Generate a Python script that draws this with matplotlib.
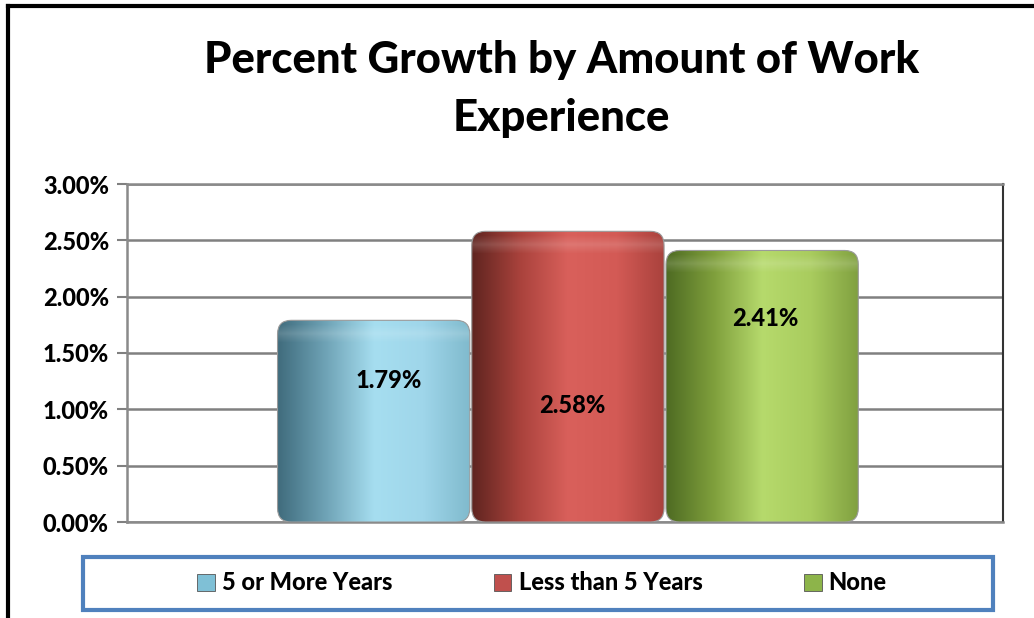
import numpy as np
import matplotlib.pyplot as plt
from matplotlib.patches import FancyBboxPatch, Rectangle, Patch
from matplotlib.colors import LinearSegmentedColormap

# data
series = ['5 or More Years', 'Less than 5 Years', 'None']
values = [1.79, 2.58, 2.41]          # percent growth
labels = ['1.79%', '2.58%', '2.41%']
label_frac = [0.70, 0.40, 0.75]      # where Excel put the value labels, share of bar height
label_dx = [0.08, 0.025, 0.015]      # small sideways shift of the labels, in bar widths
yticks = [0.0, 0.5, 1.0, 1.5, 2.0, 2.5, 3.0]

# cylinder shading, left edge -> highlight -> right edge
shades = [
    ['#3f6b7c', '#6fa3b6', '#a6def0', '#9fd6ea', '#7fb9cc'],
    ['#5e241f', '#a9423c', '#d9605b', '#d35a55', '#a8413c'],
    ['#4d6a22', '#7f9f3c', '#b6da6c', '#a9cc5e', '#7f9f3f'],
]
legend_cols = ['#7fc0d6', '#c0504d', '#8db44a']

plt.rcParams['font.family'] = ['Lato', 'DejaVu Sans']
W = 'black'

fig = plt.figure(figsize=(10.34, 6.18), dpi=100)
ax = fig.add_axes([127 / 1034, 1 - 522 / 618, 876 / 1034, 338 / 618])

x = np.array([-1.0, 0.0, 1.0])
bars = ax.bar(x, values, width=1.0, color='none', zorder=3)

ax.set_xlim(-2.27, 2.24)
ax.set_ylim(0, 3.0)

grad = np.linspace(0, 1, 256).reshape(1, -1)
band = LinearSegmentedColormap.from_list(
    't', [(1, 1, 1, 0.0), (1, 1, 1, 0.15), (1, 1, 1, 0.0)])
for b, sh, lab, fr, dx in zip(bars, shades, labels, label_frac, label_dx):
    x0, w, h = b.get_x(), b.get_width(), b.get_height()
    box = FancyBboxPatch((x0 + 0.005, 0), w - 0.01, h,
                         boxstyle='round,pad=0,rounding_size=0.07',
                         mutation_aspect=1.75, facecolor='none',
                         edgecolor='#9a9a9a', linewidth=0.8, zorder=5)
    ax.add_patch(box)
    cmap = LinearSegmentedColormap.from_list('c', sh)
    im = ax.imshow(grad, cmap=cmap, aspect='auto', extent=(x0, x0 + w, 0, h),
                   zorder=4, interpolation='bilinear')
    im.set_clip_path(box)
    # soft highlight band under the rounded top
    top = ax.imshow(np.linspace(0, 1, 64).reshape(-1, 1), cmap=band, aspect='auto',
                    extent=(x0, x0 + w, h - 0.2, h - 0.04), zorder=4.5)
    top.set_clip_path(box)
    ax.text(x0 + w * (0.5 + dx), h * fr, lab, ha='center', va='center', fontsize=17,
            fontweight=W, color='black', zorder=6)

ax.set_yticks(yticks)
ax.set_yticklabels(['%.2f%%' % t for t in yticks], fontsize=17, fontweight=W)
ax.set_xticks([])
ax.yaxis.grid(True, color='#808080', linewidth=1.8, zorder=0)
ax.set_axisbelow(True)
ax.tick_params(axis='y', length=7, width=1.5, color='#808080', pad=6)
for side in ['left', 'bottom', 'top']:
    ax.spines[side].set_color('#8a8a8a')
    ax.spines[side].set_linewidth(1.8)
ax.spines['right'].set_color('#333333')
ax.spines['right'].set_linewidth(1.5)

fig.text(0.543, 1 - 60 / 618, 'Percent Growth by Amount of Work', ha='center', va='center',
         fontsize=31.5, fontweight=W)
fig.text(0.543, 1 - 118 / 618, 'Experience', ha='center', va='center',
         fontsize=31.5, fontweight=W)

# legend frame
fig.patches.append(Rectangle((83 / 1034, 1 - 610 / 618), 910 / 1034, 53 / 618,
                             transform=fig.transFigure, facecolor='white',
                             edgecolor='#4f81bd', linewidth=3, zorder=1))
handles = [Patch(facecolor=c, edgecolor='#555555', linewidth=0.6) for c in legend_cols]
fig.legend(handles, series, loc='center', bbox_to_anchor=(0.524, 1 - 583 / 618), ncol=3,
           frameon=False, prop={'size': 17, 'weight': W}, handlelength=0.75,
           handleheight=0.75, handletextpad=0.3, columnspacing=4.3)

# outer chart border (top and left edges visible)
fig.add_artist(plt.Line2D([8 / 1034, 8 / 1034], [0, 1 - 6 / 618], color='black', linewidth=3,
                          transform=fig.transFigure))
fig.add_artist(plt.Line2D([8 / 1034, 1], [1 - 6 / 618, 1 - 6 / 618], color='black', linewidth=3,
                          transform=fig.transFigure))

fig.savefig('out.png', dpi=100)
